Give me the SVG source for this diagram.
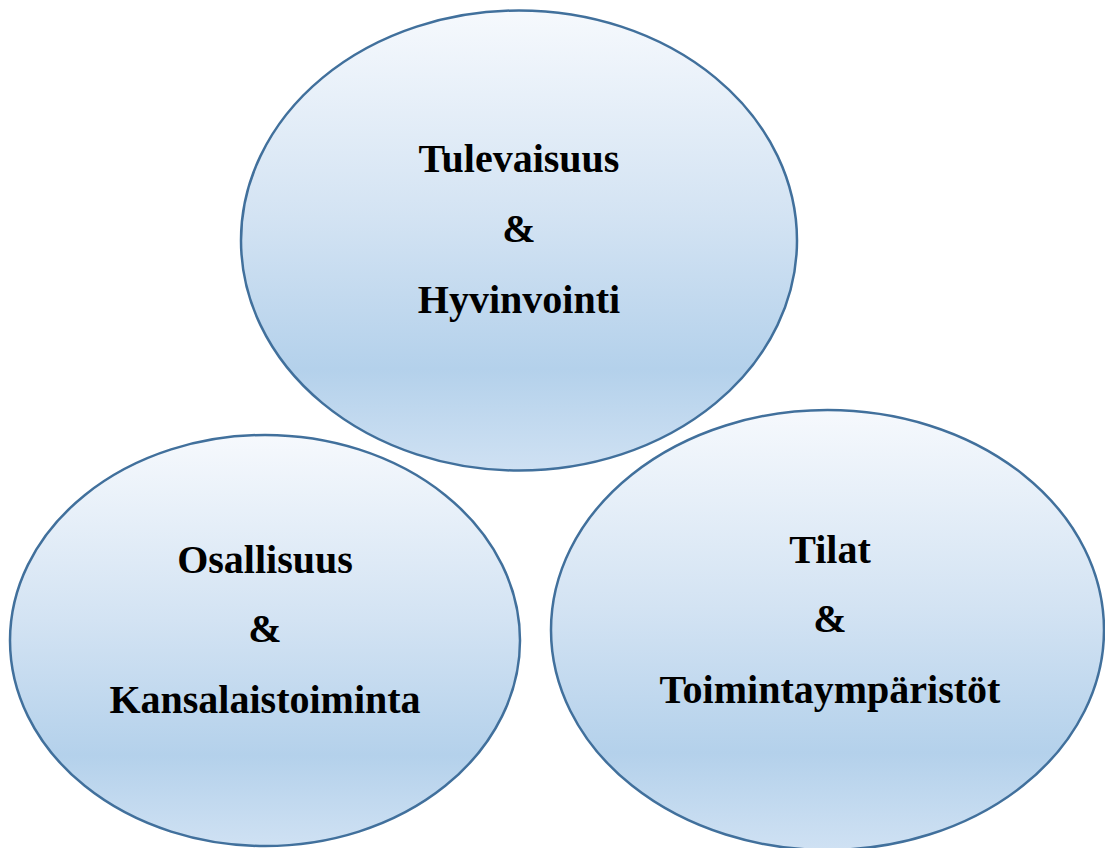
<svg xmlns="http://www.w3.org/2000/svg" width="1105" height="848" viewBox="0 0 1105 848">
<defs>
<linearGradient id="g" x1="0" y1="0" x2="0" y2="1">
<stop offset="0" stop-color="#f6f9fd"/>
<stop offset="0.45" stop-color="#d3e3f3"/>
<stop offset="0.78" stop-color="#b4d1eb"/>
<stop offset="1" stop-color="#cfe1f3"/>
</linearGradient>
<style>
.e{fill:url(#g);stroke:#41709c;stroke-width:2.5}
.t{font-family:"Liberation Serif","Times New Roman",serif;font-weight:bold;font-size:40px;fill:#000;text-anchor:middle}
</style>
</defs>
<rect width="1105" height="848" fill="#fff"/>
<g id="node-top">
<ellipse class="e" cx="519" cy="240.5" rx="278" ry="230"/>
<text class="t" x="519" y="172">Tulevaisuus</text>
<text class="t" x="519" y="242">&amp;</text>
<text class="t" x="519" y="313">Hyvinvointi</text>
</g>
<g id="node-left">
<ellipse class="e" cx="265" cy="640.5" rx="255" ry="205.5"/>
<text class="t" x="265" y="573">Osallisuus</text>
<text class="t" x="265" y="642">&amp;</text>
<text class="t" x="265" y="713">Kansalaistoiminta</text>
</g>
<g id="node-right">
<ellipse class="e" cx="827.5" cy="630" rx="276.5" ry="220"/>
<text class="t" x="830" y="563">Tilat</text>
<text class="t" x="830" y="632">&amp;</text>
<text class="t" x="830" y="703">Toimintaympäristöt</text>
</g>
<g id="connectors"/>
</svg>
